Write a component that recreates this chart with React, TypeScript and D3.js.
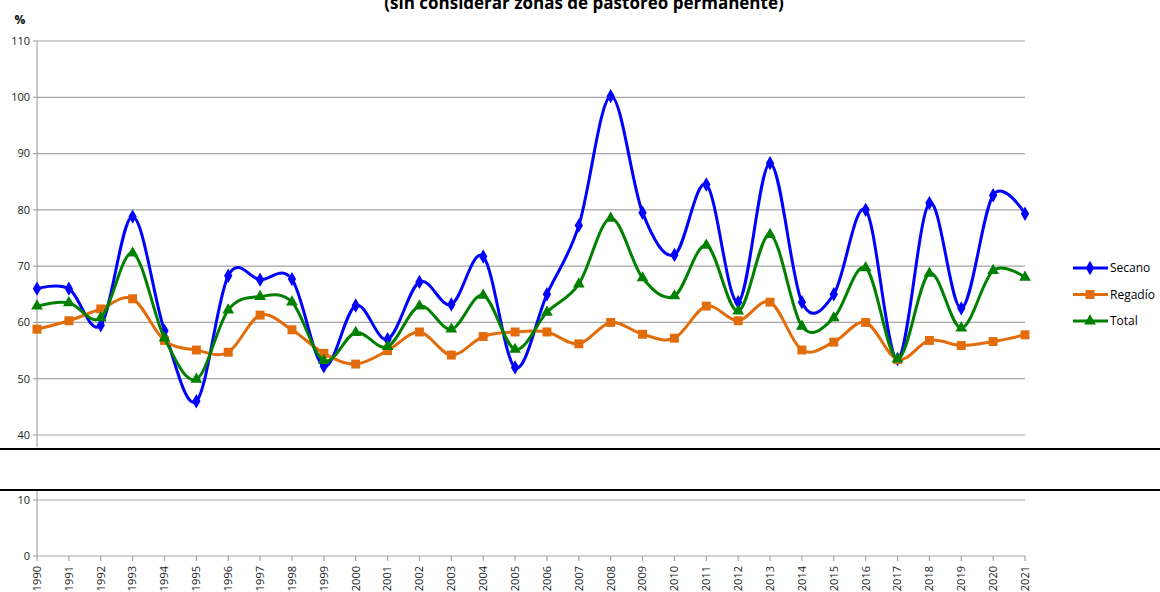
import React from 'react';
import * as d3 from 'd3';

const years = d3.range(1990, 2022);
const secano = [66, 66, 59.5, 78.8, 58.5, 46, 68.3, 67.6, 67.7, 52.2, 63, 57, 67.2, 63.2, 71.7, 52, 65, 77.2, 100.2, 79.5, 72, 84.5, 63.6, 88.3, 63.6, 65, 80, 53.5, 81.2, 62.5, 82.6, 79.3];
const regadio = [58.8, 60.3, 62.4, 64.2, 56.8, 55.1, 54.7, 61.3, 58.7, 54.5, 52.6, 55, 58.3, 54.2, 57.5, 58.3, 58.3, 56.2, 60, 57.9, 57.2, 62.9, 60.3, 63.6, 55.1, 56.5, 60, 53.4, 56.8, 55.9, 56.6, 57.8];
const total = [62.9, 63.5, 60.8, 72.3, 57.2, 49.9, 62.2, 64.6, 63.6, 53.2, 58.2, 55.7, 62.9, 58.8, 64.8, 55.2, 61.8, 66.8, 78.5, 67.9, 64.7, 73.7, 62, 75.6, 59.3, 60.8, 69.7, 53.5, 68.7, 59, 69.2, 68];
const topTicks = [40, 50, 60, 70, 80, 90, 100, 110];
const bottomTicks = [0, 10];

const series = [
  { name: 'Secano', values: secano, color: '#0000FF', marker: d3.symbolDiamond, size: 60 },
  { name: 'Regadío', values: regadio, color: '#E36C0A', marker: d3.symbolSquare, size: 80 },
  { name: 'Total', values: total, color: '#008000', marker: d3.symbolTriangle, size: 60 },
];

const W = 1160, H = 592;
const x0 = 37, x1 = 1025;
const font = 'Open Sans, Noto Sans, sans-serif';

export default function App() {
  const x = d3.scaleLinear().domain([1990, 2021]).range([x0, x1]);
  const yTop = d3.scaleLinear().domain([40, 110]).range([435, 41]);
  const yBot = d3.scaleLinear().domain([0, 10]).range([556, 500]);
  const line = d3.line<number>()
    .x((_, i) => x(years[i]))
    .y(d => yTop(d))
    .curve(d3.curveCardinal.tension(0));

  return (
    <svg width={W} height={H} style={{ position: 'absolute', left: 0, top: 0 }} fontFamily={font}>
      {/* title is partly clipped by the top edge, as in the source */}
      <text x={584} y={9} textAnchor="middle" fontSize={17} fontWeight="bold" fill="#000">(sin considerar zonas de pastoreo permanente)</text>
      <text x={20} y={24} textAnchor="middle" fontSize={12} fontWeight="bold" fill="#000">%</text>

      {/* top panel */}
      {topTicks.map(t => (
        <g key={t}>
          <line x1={x0} x2={x1} y1={yTop(t)} y2={yTop(t)} stroke="#a6a6a6" strokeWidth={1.2} />
          <line x1={x0 - 4} x2={x0} y1={yTop(t)} y2={yTop(t)} stroke="#a6a6a6" strokeWidth={1.2} />
          <text x={30} y={yTop(t)} dy="0.35em" textAnchor="end" fontSize={11} fill="#222">{t}</text>
        </g>
      ))}
      <line x1={x0} x2={x0} y1={yTop(110)} y2={447} stroke="#a6a6a6" strokeWidth={1.2} />

      {/* bottom panel */}
      {bottomTicks.map(t => (
        <g key={t}>
          <line x1={x0} x2={x1} y1={yBot(t)} y2={yBot(t)} stroke="#a6a6a6" strokeWidth={1.2} />
          <line x1={x0 - 4} x2={x0} y1={yBot(t)} y2={yBot(t)} stroke="#a6a6a6" strokeWidth={1.2} />
          <text x={30} y={yBot(t)} dy="0.35em" textAnchor="end" fontSize={11} fill="#222">{t}</text>
        </g>
      ))}
      <line x1={x0} x2={x0} y1={491} y2={yBot(0)} stroke="#a6a6a6" strokeWidth={1.2} />
      {years.map(yr => (
        <g key={yr}>
          <line x1={x(yr)} x2={x(yr)} y1={yBot(0)} y2={yBot(0) + 5} stroke="#a6a6a6" strokeWidth={1.2} />
          <text transform={`translate(${x(yr)},${yBot(0) + 10}) rotate(-90)`} dy="0.35em" textAnchor="end" fontSize={11} fill="#222">{yr}</text>
        </g>
      ))}

      {/* axis break */}
      <line x1={0} x2={W} y1={449} y2={449} stroke="#000" strokeWidth={2} />
      <line x1={0} x2={W} y1={490} y2={490} stroke="#000" strokeWidth={2} />

      {series.map(s => (
        <g key={s.name}>
          <path d={line(s.values) || ''} fill="none" stroke={s.color} strokeWidth={3} />
          {s.values.map((v, i) => (
            <path key={i} d={d3.symbol(s.marker, s.size)() || ''} transform={`translate(${x(years[i])},${yTop(v)})`} fill={s.color} />
          ))}
        </g>
      ))}

      {/* legend */}
      {series.map((s, i) => {
        const ly = 268 + i * 26.5;
        return (
          <g key={s.name}>
            <line x1={1073} x2={1108} y1={ly} y2={ly} stroke={s.color} strokeWidth={3} />
            <path d={d3.symbol(s.marker, s.size)() || ''} transform={`translate(1090,${ly})`} fill={s.color} />
            <text x={1110} y={ly} dy="0.35em" fontSize={12} fill="#000">{s.name}</text>
          </g>
        );
      })}
    </svg>
  );
}
